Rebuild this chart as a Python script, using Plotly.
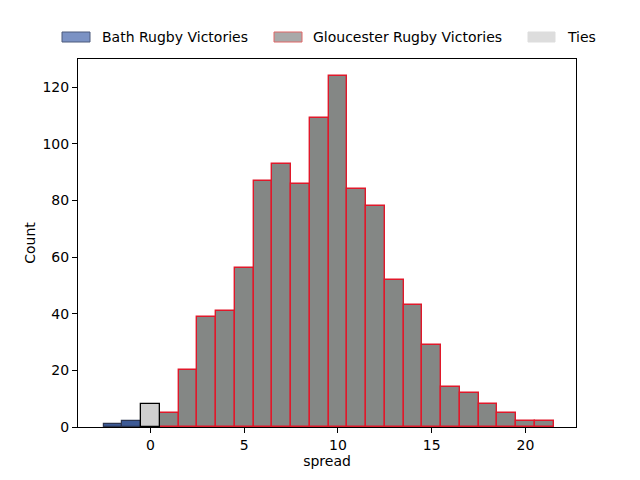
import plotly.graph_objects as go

# bin centres (width 1) and counts
bath_bins = [-2, -1]
bath_counts = [1, 2]
tie_bins = [0]
tie_counts = [8]
glos_bins = [1, 2, 3, 4, 5, 6, 7, 8, 9, 10, 11, 12, 13, 14, 15, 16, 17, 18, 19, 20, 21]
glos_counts = [5, 20, 39, 41, 56, 87, 93, 86, 109, 124, 84, 78, 52, 43, 29, 14, 12, 8, 5, 2, 2]

y_ticks = [0, 20, 40, 60, 80, 100, 120]
x_ticks = [0, 5, 10, 15, 20]

FONT = "DejaVu Sans"
FS = 14

# the page body has an 8px margin, so shift everything up/left by that much
OFF = 8
# plot area in screen pixels (matplotlib default axes box)
L, R, T, B = 78 - OFF, 576 - OFF, 59 - OFF, 427 - OFF
PW, PH = R - L, B - T

def px_x(p):
    return (p - OFF - L) / PW

def px_y(p):
    return (B - (p - OFF)) / PH

fig = go.Figure()

fig.add_trace(go.Bar(
    x=bath_bins, y=bath_counts, width=1, name="Bath Rugby Victories",
    marker=dict(color="#3d5a96", line=dict(color="#2b3550", width=1.2)),
))
fig.add_trace(go.Bar(
    x=glos_bins, y=glos_counts, width=1, name="Gloucester Rugby Victories",
    marker=dict(color="#848785", line=dict(color="#e0182a", width=1.4)),
))
fig.add_trace(go.Bar(
    x=tie_bins, y=tie_counts, width=1, name="Ties",
    marker=dict(color="#cfcfcf", line=dict(color="#000000", width=1.3)),
))

# legend drawn by hand so the spacing matches matplotlib's
legend_items = [
    ("Bath Rugby Victories", "#7b92c4", "#4c5a7c", 62, 90, 100),
    ("Gloucester Rugby Victories", "#a9a9a9", "#e06666", 274, 302, 311),
    ("Ties", "#dddddd", "#dddddd", 528, 555, 565),
]
shapes = []
annotations = []
for name, fill, edge, s0, s1, tx in legend_items:
    shapes.append(dict(
        type="rect", xref="paper", yref="paper",
        x0=px_x(s0), x1=px_x(s1), y0=px_y(42), y1=px_y(32),
        fillcolor=fill, line=dict(color=edge, width=1)
    ))
    annotations.append(dict(
        text=name, xref="paper", yref="paper", x=px_x(tx), y=px_y(37),
        xanchor="left", yanchor="middle", showarrow=False,
        font=dict(family=FONT, size=FS, color="black")
    ))

fig.update_layout(
    width=640, height=480,
    margin=dict(l=L, r=640 - R, t=T, b=480 - B, autoexpand=False),
    paper_bgcolor="white", plot_bgcolor="white",
    font=dict(family=FONT, size=FS, color="black"),
    barmode="overlay", bargap=0,
    showlegend=False,
    shapes=shapes, annotations=annotations,
    xaxis=dict(
        title=dict(text="spread", font=dict(size=FS), standoff=4),
        range=[-3.86, 22.7], tickvals=x_ticks,
        showline=True, linecolor="black", linewidth=1, mirror=True,
        ticks="outside", ticklen=5, tickcolor="black",
        showgrid=False, zeroline=False
    ),
    yaxis=dict(
        title=dict(text="Count", font=dict(size=FS), standoff=3),
        range=[0, 130], tickvals=y_ticks,
        showline=True, linecolor="black", linewidth=1, mirror=True,
        ticks="outside", ticklen=5, tickcolor="black",
        showgrid=False, zeroline=False
    ),
)

fig.write_html("out.html")
